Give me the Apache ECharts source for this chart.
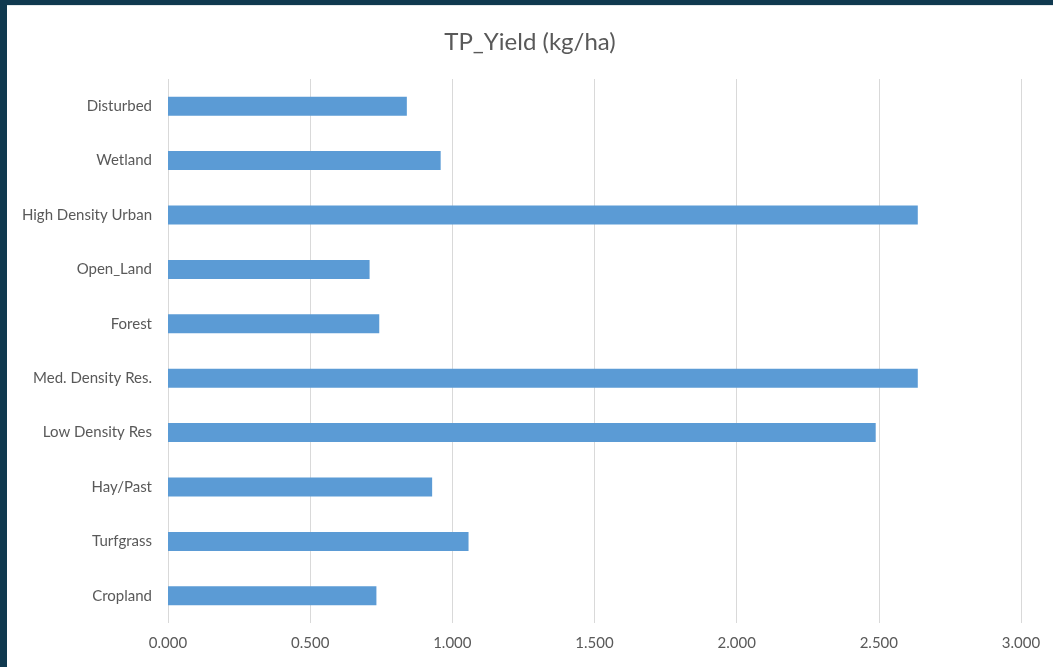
<!DOCTYPE html>
<html>
<head>
<meta charset="utf-8">
<script src="https://cdn.jsdelivr.net/npm/echarts@6/dist/echarts.min.js"></script>
<style>
  html, body { margin: 0; padding: 0; width: 1053px; height: 667px; background: #10394f; overflow: hidden; }
  #frame { position: absolute; left: 7px; top: 5px; width: 1046px; height: 662px; background: #ffffff; border-top: 1px solid #e4e8ea; box-sizing: border-box; }
  #chart { width: 100%; height: 100%; }
</style>
</head>
<body>
<div id="frame"><div id="chart"></div></div>
<script>
// Land-use categories, listed bottom to top as drawn on the category axis
const categories = [
  'Cropland', 'Turfgrass', 'Hay/Past', 'Low Density Res', 'Med. Density Res.',
  'Forest', 'Open_Land', 'High Density Urban', 'Wetland', 'Disturbed'
];
// Total phosphorus yield per land use (kg/ha)
const tpYield = [0.733, 1.057, 0.929, 2.489, 2.637, 0.743, 0.709, 2.637, 0.959, 0.840];
// Value-axis tick settings
const axisMin = 0;
const axisMax = 3;
const axisStep = 0.5;

const chart = echarts.init(document.getElementById('chart'));
const font = 'Lato, "Open Sans", sans-serif';
chart.setOption({
  animation: false,
  backgroundColor: '#ffffff',
  title: {
    text: 'TP_Yield (kg/ha)',
    left: 'center',
    top: 19,
    textStyle: { fontFamily: font, fontSize: 24, fontWeight: 'normal', color: '#595959' }
  },
  grid: { left: 161, right: 32, top: 73, bottom: 44, containLabel: false },
  xAxis: {
    type: 'value',
    min: axisMin,
    max: axisMax,
    interval: axisStep,
    axisLine: { show: false },
    axisTick: { show: false },
    splitLine: { show: true, lineStyle: { color: '#d9d9d9', width: 1 } },
    axisLabel: {
      fontFamily: font, fontSize: 15, color: '#595959', margin: 13,
      formatter: v => v.toFixed(3)
    }
  },
  yAxis: {
    type: 'category',
    data: categories,
    axisLine: { show: false },
    axisTick: { show: false },
    axisLabel: { fontFamily: font, fontSize: 15, color: '#595959', margin: 16 }
  },
  series: [{
    type: 'bar',
    data: tpYield,
    barWidth: 19,
    itemStyle: { color: '#5b9bd5' }
  }]
});
</script>
</body>
</html>
